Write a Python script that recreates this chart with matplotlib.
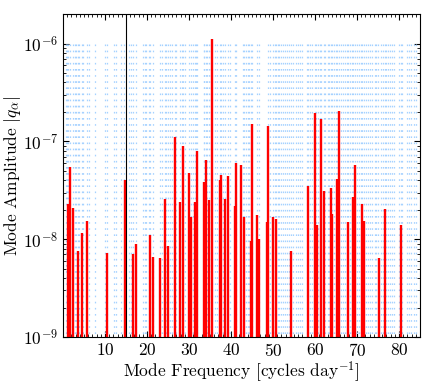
import numpy as np
import matplotlib
matplotlib.use('Agg')
import matplotlib.pyplot as plt
from matplotlib.ticker import MultipleLocator, LogLocator, NullFormatter

plt.rcParams['font.family'] = 'serif'
plt.rcParams['font.serif'] = ['cmr10', 'DejaVu Serif']
plt.rcParams['mathtext.fontset'] = 'cm'
plt.rcParams['axes.formatter.use_mathtext'] = True
plt.rcParams['axes.unicode_minus'] = False

# mode frequencies [cycles/day] and amplitudes of the strong modes
mode_freq = [1.26, 1.58, 2.45, 3.64, 4.43, 5.70, 10.6, 14.9, 16.8, 17.4,
             20.8, 21.5, 23.2, 24.4, 25.1, 26.6, 27.8, 28.6, 30.1, 30.6,
             31.4, 32.0, 33.7, 34.0, 34.8, 35.6, 37.3, 37.7, 38.6, 39.3,
             40.9, 41.3, 42.3, 43.0, 44.7, 45.1, 46.1, 46.7, 48.5, 48.9,
             50.0, 50.7, 54.4, 58.3, 60.0, 60.4, 61.5, 62.1, 63.8, 64.1,
             65.3, 65.8, 67.9, 69.1, 69.5, 71.3, 71.7, 75.3, 76.7, 80.6]
mode_amp = [2.3e-8, 5.5e-8, 2.1e-8, 7.6e-9, 1.15e-8, 1.55e-8, 7.2e-9, 4.0e-8, 7.1e-9, 8.9e-9,
            1.1e-8, 6.6e-9, 6.4e-9, 2.6e-8, 8.5e-9, 1.1e-7, 2.4e-8, 8.9e-8, 4.7e-8, 1.7e-8,
            2.4e-8, 8.0e-8, 3.8e-8, 6.5e-8, 2.5e-8, 1.1e-6, 4.0e-8, 4.5e-8, 2.6e-8, 4.4e-8,
            2.2e-8, 6.0e-8, 5.7e-8, 1.7e-8, 9.5e-9, 1.5e-7, 1.75e-8, 1.0e-8, 1.5e-8, 1.45e-7,
            1.7e-8, 1.6e-8, 7.6e-9, 3.5e-8, 1.95e-7, 1.4e-8, 1.7e-7, 3.1e-8, 3.3e-8, 1.8e-8,
            4.1e-8, 2.05e-7, 1.5e-8, 2.7e-8, 5.7e-8, 2.3e-8, 1.55e-8, 6.4e-9, 2.05e-8, 1.4e-8]

# all mode frequencies in the window (dotted guides)
all_freq = [0.8, 1.0, 1.26, 1.58, 2.45, 2.8, 3.2, 3.64, 3.9, 4.43, 4.7, 5.7, 6.1, 7.7,
            10.1, 10.6, 12.2, 12.7, 13.9, 14.5, 15.8, 16.2, 16.8, 17.4, 19.1, 19.5,
            19.9, 20.4, 20.8, 21.5, 23.0, 23.7, 24.4, 24.6, 25.1, 25.5, 25.9, 26.6,
            27.0, 27.8, 28.3, 28.6, 29.0, 30.1, 30.6, 30.9, 31.4, 31.7, 32.0, 33.5,
            33.7, 34.0, 34.4, 34.8, 35.2, 35.6, 36.1, 36.6, 37.3, 37.7, 38.2, 38.6,
            39.3, 39.8, 40.9, 41.3, 42.8, 43.0, 43.5, 44.0, 44.4, 44.7, 45.1, 46.1,
            46.7, 48.9, 49.4, 49.9, 50.4, 50.7, 51.1, 51.5, 52.0, 52.4, 52.9, 53.3,
            53.8, 54.2, 54.7, 55.6, 56.0, 56.5, 57.0, 58.0, 58.3, 58.8, 59.4, 60.0,
            60.3, 60.8, 61.2, 61.5, 62.1, 62.5, 63.0, 63.4, 63.8, 64.1, 64.6, 65.0,
            65.3, 65.8, 66.3, 66.7, 67.2, 67.6, 67.9, 68.4, 68.8, 69.1, 69.5, 70.0,
            70.5, 71.0, 71.3, 71.7, 72.2, 72.7, 73.2, 73.7, 74.2, 74.6, 75.1, 75.7,
            76.2, 76.7, 77.0, 77.3, 77.8, 78.3, 78.9, 80.0, 80.6, 80.8, 81.9, 82.4,
            82.9, 83.6, 84.1]

orbit_freq = 15.0

fig = plt.figure(figsize=(4.43, 3.91), dpi=100)
ax = fig.add_subplot(111)

ax.vlines(all_freq, 1e-6, 1e-9, colors='#a6d2ff', lw=0.9,
          linestyles=[(0, (1.3, 3.6))])
ax.vlines(mode_freq, 1e-12, mode_amp, colors='red', lw=1.7)
ax.axvline(orbit_freq, color='k', lw=0.8)

ax.set_yscale('log')
ax.set_xlim(0, 85)
ax.set_ylim(1e-9, 2e-6)

ax.set_xticks([10, 20, 30, 40, 50, 60, 70, 80])
ax.xaxis.set_minor_locator(MultipleLocator(1))
ax.yaxis.set_major_locator(LogLocator(base=10))
ax.yaxis.set_minor_locator(LogLocator(base=10, subs=np.arange(2, 10)))
ax.yaxis.set_minor_formatter(NullFormatter())

ax.tick_params(which='both', direction='in', top=True, right=True, labelsize=12.5)
ax.tick_params(which='major', length=4, width=0.8)
ax.tick_params(which='minor', length=2, width=0.6)

ax.set_xlabel(r'Mode Frequency [cycles day$^{-1}$]', fontsize=12.5, labelpad=0)
ax.set_ylabel(r'Mode Amplitude $|q_\alpha|$', fontsize=12.5, labelpad=0)

plt.subplots_adjust(left=0.142, right=0.948, top=0.964, bottom=0.138)

fig.savefig('out.png', dpi=100)
